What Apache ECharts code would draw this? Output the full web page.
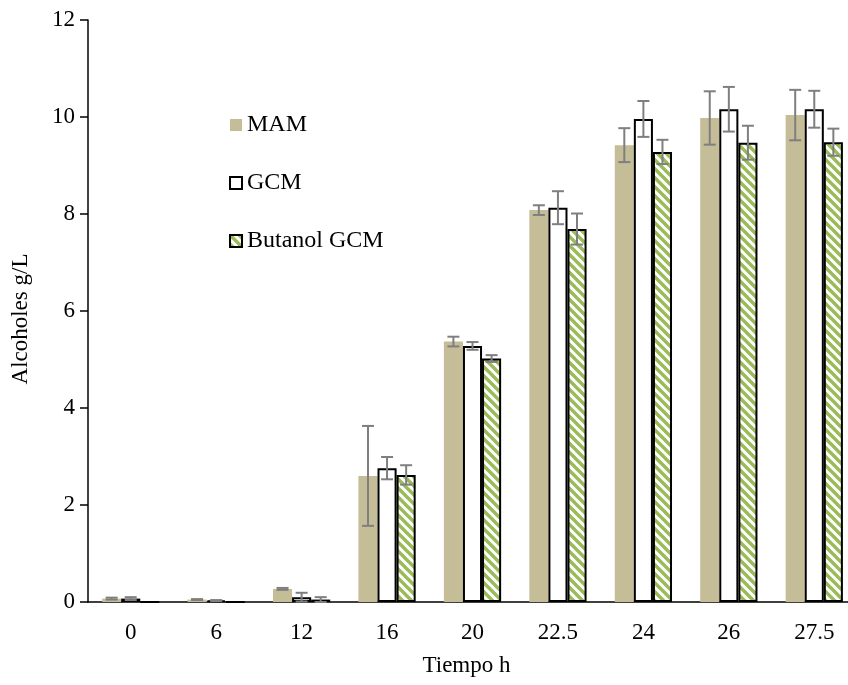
<!DOCTYPE html>
<html>
<head>
<meta charset="utf-8">
<script src="https://cdn.jsdelivr.net/npm/echarts@6/dist/echarts.min.js"></script>
<style>html,body{margin:0;padding:0;background:#fff;overflow:hidden;}#c{width:848px;height:685px;}</style>
</head>
<body>
<div id="c"></div>
<script>
var categories = ['0', '6', '12', '16', '20', '22.5', '24', '26', '27.5'];
var yTicks = [0, 2, 4, 6, 8, 10, 12];
var seriesNames = ['MAM', 'GCM', 'Butanol GCM'];
var mam = [0.07, 0.05, 0.27, 2.60, 5.37, 8.08, 9.42, 9.98, 10.04];
var mamErr = [0.02, 0.01, 0.02, 1.03, 0.10, 0.10, 0.35, 0.55, 0.52];
var gcm = [0.07, 0.03, 0.10, 2.76, 5.28, 8.13, 9.96, 10.16, 10.16];
var gcmErr = [0.03, 0.01, 0.09, 0.23, 0.08, 0.34, 0.37, 0.46, 0.38];
var but = [0, 0, 0.05, 2.62, 5.02, 7.69, 9.28, 9.47, 9.48];
var butErr = [0, 0, 0.05, 0.20, 0.07, 0.32, 0.25, 0.35, 0.28];

var FONT = 'Liberation Serif';

function makePattern() {
  var s = 9;
  var cv = document.createElement('canvas');
  cv.width = s; cv.height = s;
  var ctx = cv.getContext('2d');
  ctx.fillStyle = '#ffffff';
  ctx.fillRect(0, 0, s, s);
  ctx.strokeStyle = '#9bbb59';
  ctx.lineWidth = 3.4;
  for (var k = -s; k <= s; k += s) {
    ctx.beginPath();
    ctx.moveTo(k - 1, -1);
    ctx.lineTo(k + s + 1, s + 1);
    ctx.stroke();
  }
  return cv;
}
var pattern = { image: makePattern(), repeat: 'repeat' };

var values = [mam, gcm, but];
var errs = [mamErr, gcmErr, butErr];
var errData = [];
for (var s = 0; s < 3; s++) {
  for (var i = 0; i < categories.length; i++) {
    if (errs[s][i] > 0) {
      errData.push([i, values[s][i] - errs[s][i], values[s][i] + errs[s][i], s]);
    }
  }
}

var GAP = 0.33;
var chart = echarts.init(document.getElementById('c'));
chart.setOption({
  animation: false,
  grid: { left: 88, width: 769, top: 20, height: 582, containLabel: false, outerBoundsMode: 'none' },
  legend: {
    orient: 'vertical',
    left: 229, top: 113,
    itemWidth: 12, itemHeight: 12,
    itemGap: 34,
    icon: 'rect',
    data: seriesNames,
    textStyle: { fontFamily: FONT, fontSize: 24, color: '#000' },
    padding: 0
  },
  xAxis: {
    type: 'category',
    data: categories,
    name: 'Tiempo h',
    nameLocation: 'middle',
    nameGap: 52,
    nameTextStyle: { fontFamily: FONT, fontSize: 23, color: '#000', padding: [0, 12, 0, 0] },
    axisLine: { lineStyle: { color: '#000', width: 1.5 } },
    axisTick: { show: false },
    axisLabel: { fontFamily: FONT, fontSize: 23, color: '#000', margin: 19 }
  },
  yAxis: {
    type: 'value',
    min: 0, max: 12, interval: 2,
    name: 'Alcoholes g/L',
    nameLocation: 'middle',
    nameGap: 56,
    nameTextStyle: { fontFamily: FONT, fontSize: 23, color: '#000', padding: [0, 16, 0, 0] },
    axisLine: { show: true, lineStyle: { color: '#000', width: 1.5 } },
    axisTick: { show: true, length: 8, lineStyle: { color: '#000', width: 1.5 } },
    splitLine: { show: false },
    axisLabel: { fontFamily: FONT, fontSize: 23, color: '#000', margin: 13,
      formatter: function (v) { return yTicks.indexOf(v) >= 0 ? String(v) : ''; } }
  },
  series: [
    {
      name: seriesNames[0], type: 'bar', data: mam,
      barGap: '0%', barCategoryGap: (GAP * 100) + '%',
      itemStyle: { color: '#c4bd97' }
    },
    {
      name: seriesNames[1], type: 'bar', data: gcm,
      barGap: '0%', barCategoryGap: (GAP * 100) + '%',
      itemStyle: { color: '#ffffff', borderColor: '#000', borderWidth: 2 }
    },
    {
      name: seriesNames[2], type: 'bar', data: but,
      barGap: '0%', barCategoryGap: (GAP * 100) + '%',
      itemStyle: { color: pattern, borderColor: '#000', borderWidth: 2 }
    },
    {
      type: 'custom',
      data: errData,
      z: 10,
      renderItem: function (params, api) {
        var ci = api.value(0), lo = api.value(1), hi = api.value(2), si = api.value(3);
        var band = api.size([1, 0])[0];
        var bw = band * (1 - GAP) / 3;
        var cx = api.coord([ci, 0])[0] + (si - 1) * bw;
        var yl = api.coord([ci, lo])[1];
        var yh = api.coord([ci, hi])[1];
        var cap = 6;
        var st = { stroke: '#7f7f7f', lineWidth: 2 };
        return {
          type: 'group',
          children: [
            { type: 'line', shape: { x1: cx, y1: yh, x2: cx, y2: yl }, style: st },
            { type: 'line', shape: { x1: cx - cap, y1: yh, x2: cx + cap, y2: yh }, style: st },
            { type: 'line', shape: { x1: cx - cap, y1: yl, x2: cx + cap, y2: yl }, style: st }
          ]
        };
      }
    }
  ]
});
</script>
</body>
</html>
